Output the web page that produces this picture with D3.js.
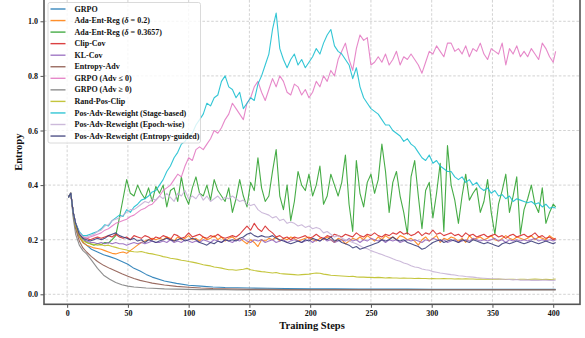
<!DOCTYPE html>
<html><head><meta charset="utf-8">
<script src="https://cdn.jsdelivr.net/npm/d3@7"></script>
<style>
html,body{margin:0;padding:0;background:#fff;}
svg{display:block;font-family:"Liberation Serif","Times New Roman",serif;}
</style></head><body>
<svg id="chart" width="585" height="338"></svg>
<script>
// Training-step grids the series are logged on
const stepsDense = [1, 3, 5, 7, 10, 13].concat(d3.range(16, 401, 3), [402]);
const stepsSparse = [1, 3, 5, 7, 10, 13, 16, 20, 25, 30, 35, 40, 45, 50, 55, 60, 65, 70,
  80, 90, 100, 110, 120, 130, 140, 150, 165, 180, 200, 220, 240, 260, 280, 300, 320, 340, 360, 380, 402];

const xTicks = [0, 50, 100, 150, 200, 250, 300, 350, 400];
const yTicks = [0.0, 0.2, 0.4, 0.6, 0.8, 1.0];

// entropy curves (sparse grid)
const grpo = [0.355, 0.37, 0.30, 0.25, 0.21, 0.19,
  0.18, 0.165, 0.155, 0.145, 0.138, 0.13, 0.12, 0.11, 0.095, 0.085, 0.073, 0.063,
  0.049, 0.04, 0.033, 0.03, 0.027, 0.025, 0.024, 0.023,
  0.022, 0.021, 0.02, 0.02, 0.019, 0.019, 0.019, 0.018, 0.018, 0.018, 0.018, 0.018, 0.018];
const entropyAdv = [0.355, 0.37, 0.29, 0.24, 0.195, 0.17,
  0.155, 0.138, 0.12, 0.106, 0.095, 0.085, 0.075, 0.066, 0.058, 0.051, 0.046, 0.041,
  0.034, 0.029, 0.026, 0.023, 0.021, 0.02, 0.019, 0.018,
  0.018, 0.017, 0.017, 0.017, 0.017, 0.017, 0.017, 0.017, 0.017, 0.017, 0.017, 0.017, 0.017];
const grpoAdvPos = [0.355, 0.37, 0.28, 0.22, 0.18, 0.16,
  0.148, 0.125, 0.095, 0.07, 0.055, 0.043, 0.035, 0.03, 0.027, 0.025, 0.023, 0.022,
  0.02, 0.019, 0.018, 0.017, 0.017, 0.017, 0.016, 0.016,
  0.016, 0.016, 0.016, 0.016, 0.016, 0.016, 0.016, 0.016, 0.016, 0.016, 0.016, 0.016, 0.016];

// entropy curves (dense grid)
const adaEnt02 = [0.355, 0.37, 0.30, 0.25, 0.21, 0.19,
  0.18, 0.175, 0.17, 0.168, 0.165, 0.16, 0.155, 0.15, 0.148, 0.152,
  0.155, 0.15, 0.16, 0.17, 0.18, 0.19, 0.195, 0.2, 0.205, 0.2,
  0.205, 0.2, 0.21, 0.205, 0.195, 0.21, 0.2, 0.205, 0.215, 0.2,
  0.205, 0.195, 0.21, 0.2, 0.205, 0.215, 0.2, 0.21, 0.195, 0.205,
  0.21, 0.2, 0.205, 0.195, 0.185, 0.2, 0.19, 0.175, 0.2, 0.195,
  0.205, 0.2, 0.21, 0.195, 0.205, 0.2, 0.21, 0.205, 0.195, 0.2,
  0.205, 0.21, 0.2, 0.195, 0.205, 0.2, 0.21, 0.2, 0.19, 0.205,
  0.2, 0.185, 0.195, 0.205, 0.2, 0.21, 0.2, 0.215, 0.205, 0.195,
  0.21, 0.2, 0.215, 0.205, 0.21, 0.2, 0.215, 0.21, 0.2, 0.205,
  0.195, 0.18, 0.2, 0.21, 0.195, 0.205, 0.215, 0.19, 0.205, 0.2,
  0.21, 0.205, 0.195, 0.205, 0.19, 0.215, 0.2, 0.205, 0.21, 0.2,
  0.205, 0.215, 0.2, 0.195, 0.205, 0.215, 0.205, 0.2, 0.21, 0.205,
  0.2, 0.205, 0.215, 0.2, 0.21, 0.205, 0.2, 0.215, 0.205, 0.2];
const adaEnt3657 = [0.355, 0.37, 0.30, 0.26, 0.225, 0.205,
  0.19, 0.185, 0.18, 0.186, 0.182, 0.19, 0.188, 0.2, 0.215, 0.28,
  0.35, 0.42, 0.37, 0.36, 0.40, 0.37, 0.35, 0.39, 0.34, 0.395,
  0.37, 0.40, 0.32, 0.38, 0.39, 0.34, 0.43, 0.36, 0.33, 0.39,
  0.43, 0.37, 0.36, 0.40, 0.345, 0.42, 0.38, 0.36, 0.34, 0.39,
  0.30, 0.35, 0.42, 0.36, 0.32, 0.41, 0.38, 0.50, 0.39, 0.34,
  0.36, 0.45, 0.53, 0.36, 0.31, 0.40, 0.27, 0.34, 0.45, 0.40,
  0.38, 0.44, 0.36, 0.40, 0.47, 0.33, 0.36, 0.44, 0.40, 0.36,
  0.41, 0.51, 0.33, 0.23, 0.49, 0.37, 0.32, 0.41, 0.44, 0.37,
  0.42, 0.55, 0.45, 0.30, 0.41, 0.45, 0.36, 0.30, 0.22, 0.43,
  0.49, 0.36, 0.24, 0.38, 0.41, 0.28, 0.37, 0.48, 0.23, 0.545,
  0.40, 0.345, 0.26, 0.36, 0.44, 0.345, 0.37, 0.39, 0.30, 0.34,
  0.42, 0.30, 0.22, 0.33, 0.38, 0.44, 0.30, 0.36, 0.43, 0.22,
  0.31, 0.35, 0.40, 0.33, 0.30, 0.39, 0.26, 0.30, 0.33, 0.32];
const clipCov = [0.355, 0.37, 0.30, 0.26, 0.225, 0.21,
  0.205, 0.20, 0.205, 0.21, 0.205, 0.21, 0.215, 0.21, 0.22, 0.21,
  0.205, 0.21, 0.20, 0.215, 0.21, 0.205, 0.215, 0.21, 0.20, 0.21,
  0.205, 0.215, 0.21, 0.20, 0.22, 0.215, 0.205, 0.21, 0.225, 0.21,
  0.215, 0.22, 0.21, 0.205, 0.215, 0.21, 0.22, 0.21, 0.205, 0.21,
  0.215, 0.21, 0.22, 0.235, 0.25, 0.235, 0.26, 0.24, 0.23, 0.25,
  0.235, 0.225, 0.21, 0.215, 0.205, 0.21, 0.2, 0.21, 0.205, 0.21,
  0.215, 0.205, 0.21, 0.22, 0.21, 0.205, 0.215, 0.21, 0.22, 0.215,
  0.21, 0.22, 0.215, 0.21, 0.225, 0.215, 0.21, 0.22, 0.215, 0.225,
  0.215, 0.21, 0.22, 0.215, 0.225, 0.22, 0.23, 0.22, 0.225, 0.215,
  0.22, 0.23, 0.215, 0.225, 0.22, 0.235, 0.22, 0.225, 0.215, 0.22,
  0.225, 0.215, 0.22, 0.21, 0.225, 0.215, 0.22, 0.21, 0.215, 0.22,
  0.21, 0.215, 0.22, 0.21, 0.215, 0.205, 0.215, 0.22, 0.21, 0.215,
  0.22, 0.21, 0.215, 0.225, 0.21, 0.215, 0.205, 0.21, 0.2, 0.205];
const klCov = [0.355, 0.37, 0.30, 0.255, 0.215, 0.2,
  0.195, 0.19, 0.19, 0.185, 0.19, 0.185, 0.19, 0.185, 0.19, 0.185,
  0.185, 0.18, 0.185, 0.19, 0.185, 0.19, 0.185, 0.19, 0.195, 0.19,
  0.19, 0.195, 0.19, 0.2, 0.19, 0.195, 0.19, 0.2, 0.195, 0.19,
  0.195, 0.19, 0.2, 0.195, 0.19, 0.2, 0.195, 0.19, 0.2, 0.195,
  0.19, 0.2, 0.195, 0.205, 0.195, 0.19, 0.2, 0.195, 0.2, 0.19,
  0.195, 0.2, 0.19, 0.195, 0.2, 0.19, 0.195, 0.2, 0.195, 0.19,
  0.195, 0.2, 0.19, 0.2, 0.195, 0.205, 0.195, 0.2, 0.19, 0.195,
  0.2, 0.195, 0.205, 0.195, 0.2, 0.19, 0.2, 0.195, 0.205, 0.2,
  0.195, 0.2, 0.19, 0.2, 0.195, 0.2, 0.19, 0.195, 0.2, 0.195,
  0.2, 0.195, 0.19, 0.2, 0.195, 0.205, 0.2, 0.195, 0.2, 0.19,
  0.195, 0.2, 0.19, 0.195, 0.2, 0.195, 0.205, 0.2, 0.195, 0.2,
  0.195, 0.2, 0.205, 0.195, 0.2, 0.19, 0.2, 0.195, 0.2, 0.195,
  0.2, 0.195, 0.2, 0.205, 0.195, 0.2, 0.195, 0.2, 0.195, 0.2];
const grpoAdvNeg = [0.355, 0.37, 0.30, 0.26, 0.225, 0.21,
  0.205, 0.21, 0.215, 0.22, 0.225, 0.235, 0.24, 0.25, 0.26, 0.265,
  0.27, 0.275, 0.285, 0.29, 0.30, 0.31, 0.315, 0.325, 0.33, 0.345,
  0.36, 0.38, 0.39, 0.40, 0.42, 0.44, 0.43, 0.47, 0.50, 0.49,
  0.53, 0.54, 0.53, 0.55, 0.57, 0.60, 0.59, 0.61, 0.64, 0.66,
  0.70, 0.68, 0.66, 0.64, 0.70, 0.72, 0.76, 0.78, 0.74, 0.71,
  0.75, 0.79, 0.76, 0.80, 0.78, 0.74, 0.73, 0.77, 0.76, 0.73,
  0.75, 0.72, 0.74, 0.78, 0.76, 0.80, 0.78, 0.82, 0.80, 0.86,
  0.89, 0.92, 0.86, 0.82, 0.90, 0.95, 0.93, 0.94, 0.84, 0.85,
  0.87, 0.85, 0.88, 0.84, 0.86, 0.89, 0.84, 0.87, 0.86, 0.88,
  0.86, 0.84, 0.81, 0.85, 0.89, 0.88, 0.91, 0.89, 0.87, 0.92,
  0.92, 0.89, 0.90, 0.88, 0.91, 0.87, 0.90, 0.89, 0.92, 0.88,
  0.86, 0.90, 0.89, 0.88, 0.92, 0.84, 0.90, 0.88, 0.91, 0.87,
  0.89, 0.87, 0.90, 0.88, 0.86, 0.92, 0.90, 0.87, 0.85, 0.89];
const randPosClip = [0.355, 0.37, 0.30, 0.25, 0.215, 0.195,
  0.19, 0.185, 0.183, 0.18, 0.182, 0.178, 0.18, 0.175, 0.172, 0.168,
  0.165, 0.162, 0.158, 0.156, 0.155, 0.157, 0.153, 0.15, 0.148, 0.145,
  0.142, 0.138, 0.136, 0.132, 0.13, 0.128, 0.125, 0.123, 0.12, 0.118,
  0.115, 0.112, 0.108, 0.106, 0.104, 0.1, 0.098, 0.096, 0.093, 0.09,
  0.09, 0.088, 0.09, 0.092, 0.095, 0.09, 0.087, 0.085, 0.083, 0.082,
  0.08, 0.078, 0.08, 0.076, 0.075, 0.074, 0.073, 0.072, 0.071, 0.072,
  0.073, 0.074, 0.076, 0.078, 0.077, 0.074, 0.072, 0.07, 0.069, 0.068,
  0.067, 0.066, 0.065, 0.066, 0.064, 0.063, 0.063, 0.062, 0.062, 0.061,
  0.062, 0.061, 0.06, 0.061, 0.06, 0.06, 0.059, 0.06, 0.059, 0.059,
  0.058, 0.059, 0.058, 0.058, 0.057, 0.058, 0.057, 0.057, 0.058, 0.057,
  0.057, 0.056, 0.057, 0.056, 0.057, 0.056, 0.056, 0.055, 0.056, 0.055,
  0.056, 0.055, 0.055, 0.056, 0.055, 0.054, 0.055, 0.055, 0.054, 0.055,
  0.055, 0.054, 0.055, 0.056, 0.055, 0.054, 0.055, 0.054, 0.055, 0.056];
const stageBased = [0.355, 0.37, 0.30, 0.26, 0.23, 0.215,
  0.215, 0.22, 0.225, 0.23, 0.24, 0.255, 0.25, 0.27, 0.28, 0.29,
  0.285, 0.31, 0.30, 0.32, 0.33, 0.345, 0.35, 0.36, 0.375, 0.38,
  0.40, 0.42, 0.45, 0.47, 0.50, 0.52, 0.55, 0.56, 0.58, 0.59,
  0.62, 0.64, 0.66, 0.70, 0.69, 0.72, 0.73, 0.78, 0.80, 0.76,
  0.75, 0.72, 0.74, 0.68, 0.70, 0.72, 0.71, 0.77, 0.80, 0.84,
  0.88, 0.97, 1.03, 0.90, 0.86, 0.83, 0.86, 0.88, 0.84, 0.86,
  0.83, 0.85, 0.87, 0.90, 0.88, 0.92, 0.95, 0.97, 0.91, 0.89,
  0.88, 0.86, 0.84, 0.79, 0.83, 0.76, 0.72, 0.70, 0.68, 0.67,
  0.66, 0.64, 0.62, 0.62, 0.60, 0.59, 0.58, 0.56, 0.57, 0.55,
  0.54, 0.52, 0.50, 0.49, 0.51, 0.48, 0.49, 0.47, 0.46, 0.45,
  0.45, 0.43, 0.42, 0.43, 0.41, 0.42, 0.40, 0.41, 0.39, 0.38,
  0.39, 0.37, 0.38, 0.36, 0.365, 0.35, 0.36, 0.34, 0.35, 0.345,
  0.34, 0.335, 0.34, 0.33, 0.335, 0.32, 0.33, 0.315, 0.32, 0.315];
const epochWise = [0.355, 0.37, 0.30, 0.26, 0.225, 0.21,
  0.21, 0.215, 0.22, 0.23, 0.235, 0.25, 0.255, 0.27, 0.275, 0.28,
  0.29, 0.30, 0.31, 0.31, 0.32, 0.33, 0.34, 0.335, 0.35, 0.345,
  0.36, 0.35, 0.37, 0.355, 0.34, 0.37, 0.36, 0.38, 0.35, 0.36,
  0.35, 0.37, 0.345, 0.36, 0.34, 0.35, 0.36, 0.345, 0.355, 0.35,
  0.36, 0.35, 0.34, 0.345, 0.33, 0.325, 0.33, 0.31, 0.30, 0.295,
  0.29, 0.28, 0.285, 0.27, 0.275, 0.26, 0.265, 0.26, 0.25, 0.255,
  0.245, 0.25, 0.24, 0.245, 0.24, 0.225, 0.23, 0.22, 0.21, 0.215,
  0.205, 0.2, 0.195, 0.19, 0.185, 0.178, 0.17, 0.167, 0.16, 0.155,
  0.15, 0.146, 0.14, 0.136, 0.13, 0.125, 0.121, 0.115, 0.111, 0.105,
  0.1, 0.098, 0.093, 0.09, 0.088, 0.083, 0.081, 0.078, 0.076, 0.074,
  0.072, 0.071, 0.068, 0.067, 0.065, 0.064, 0.063, 0.061, 0.06, 0.059,
  0.058, 0.057, 0.057, 0.056, 0.055, 0.055, 0.054, 0.053, 0.054, 0.052,
  0.052, 0.053, 0.051, 0.052, 0.051, 0.052, 0.052, 0.051, 0.051, 0.052];
const entropyGuided = [0.355, 0.37, 0.30, 0.26, 0.22, 0.205,
  0.2, 0.195, 0.2, 0.205, 0.2, 0.205, 0.215, 0.22, 0.225, 0.215,
  0.21, 0.205, 0.2, 0.205, 0.195, 0.2, 0.19, 0.2, 0.195, 0.19,
  0.195, 0.2, 0.205, 0.2, 0.195, 0.2, 0.205, 0.195, 0.2, 0.205,
  0.2, 0.19, 0.185, 0.18, 0.19, 0.185, 0.195, 0.19, 0.2, 0.195,
  0.2, 0.195, 0.205, 0.21, 0.22, 0.225, 0.215, 0.21, 0.215, 0.21,
  0.21, 0.215, 0.205, 0.2, 0.195, 0.19, 0.185, 0.19, 0.195, 0.19,
  0.2, 0.195, 0.205, 0.2, 0.195, 0.205, 0.2, 0.21, 0.195, 0.2,
  0.19, 0.185, 0.18, 0.17, 0.175, 0.165, 0.17, 0.175, 0.18, 0.185,
  0.19, 0.2, 0.195, 0.2, 0.21, 0.2, 0.195, 0.2, 0.19, 0.185,
  0.18, 0.175, 0.165, 0.17, 0.18, 0.19, 0.195, 0.2, 0.19, 0.195,
  0.2, 0.195, 0.19, 0.2, 0.195, 0.19, 0.2, 0.195, 0.19, 0.185,
  0.19, 0.185, 0.18, 0.175, 0.185, 0.19, 0.185, 0.19, 0.195, 0.19,
  0.185, 0.19, 0.195, 0.19, 0.185, 0.19, 0.195, 0.19, 0.185, 0.19];

const labels = ["GRPO", "Ada-Ent-Reg (δ = 0.2)", "Ada-Ent-Reg (δ = 0.3657)", "Clip-Cov", "KL-Cov",
  "Entropy-Adv", "GRPO (Adv ≤ 0)", "GRPO (Adv ≥ 0)", "Rand-Pos-Clip",
  "Pos-Adv-Reweight (Stage-based)", "Pos-Adv-Reweight (Epoch-wise)", "Pos-Adv-Reweight (Entropy-guided)"];
const colors = ["#1f77b4", "#ff7f0e", "#2ca02c", "#d62728", "#9467bd", "#8c564b",
  "#e377c2", "#7f7f7f", "#bcbd22", "#17becf", "#c5b0d5", "#393b79"];
const seriesValues = [grpo, adaEnt02, adaEnt3657, clipCov, klCov, entropyAdv,
  grpoAdvNeg, grpoAdvPos, randPosClip, stageBased, epochWise, entropyGuided];
const seriesSteps = [stepsSparse, stepsDense, stepsDense, stepsDense, stepsDense, stepsSparse,
  stepsDense, stepsSparse, stepsDense, stepsDense, stepsDense, stepsDense];

const series = labels.map((name, i) => ({
  name, color: colors[i],
  points: seriesSteps[i].map((s, j) => [s, seriesValues[i][j]])
}));

// layout
const W = 585, H = 338;
const plot = {left: 44, right: 580, top: 0, bottom: 304.3};
const x = d3.scaleLinear().domain([-19.05, 422.05]).range([plot.left, plot.right]);
const y = d3.scaleLinear().domain([-0.0366, 1.078]).range([plot.bottom, plot.top]);

const svg = d3.select("#chart");
svg.append("rect").attr("width", W).attr("height", H).attr("fill", "#fff");

// dashed grid
const grid = svg.append("g").attr("stroke", "#c8c8c8").attr("stroke-width", 0.8)
  .attr("stroke-dasharray", "2.6,1.8");
grid.selectAll("line.v").data(xTicks).join("line")
  .attr("x1", d => x(d)).attr("x2", d => x(d)).attr("y1", plot.top).attr("y2", plot.bottom);
grid.selectAll("line.h").data(yTicks).join("line")
  .attr("y1", d => y(d)).attr("y2", d => y(d)).attr("x1", plot.left).attr("x2", plot.right);

// curves
svg.append("defs").append("clipPath").attr("id", "plotclip").append("rect")
  .attr("x", plot.left).attr("y", plot.top).attr("width", plot.right - plot.left).attr("height", plot.bottom - plot.top);
const line = d3.line().x(d => x(d[0])).y(d => y(d[1]));
svg.append("g").attr("clip-path", "url(#plotclip)")
  .selectAll("path").data(series).join("path")
  .attr("d", d => line(d.points))
  .attr("fill", "none")
  .attr("stroke", d => d.color)
  .attr("stroke-width", 1.1)
  .attr("stroke-opacity", 0.88)
  .attr("stroke-linejoin", "round");

// axes
const xAxis = svg.append("g").attr("transform", `translate(0,${plot.bottom})`)
  .call(d3.axisBottom(x).tickValues(xTicks).tickFormat(d3.format("d")).tickSize(3.5).tickPadding(2.5));
const yAxis = svg.append("g").attr("transform", `translate(${plot.left},0)`)
  .call(d3.axisLeft(y).tickValues(yTicks).tickFormat(d3.format(".1f")).tickSize(3.5).tickPadding(2.5));
[xAxis, yAxis].forEach(g => {
  g.select(".domain").remove();
  g.selectAll(".tick line").attr("stroke", "#555").attr("stroke-width", 1);
  g.selectAll(".tick text").attr("fill", "#111").style("font-size", "8px").style("font-weight", "bold")
    .style("font-family", '"Liberation Serif", serif');
});

// frame
svg.append("rect").attr("x", plot.left).attr("y", plot.top - 1)
  .attr("width", plot.right - plot.left).attr("height", plot.bottom - plot.top + 1)
  .attr("fill", "none").attr("stroke", "#555").attr("stroke-width", 1.6);

// axis titles
svg.append("text").attr("x", (plot.left + plot.right) / 2).attr("y", 328.5)
  .attr("text-anchor", "middle").style("font-size", "10.5px").style("font-weight", "bold")
  .attr("fill", "#111").text("Training Steps");
svg.append("text").attr("transform", `translate(21.5,${(plot.top + plot.bottom) / 2}) rotate(-90)`)
  .attr("text-anchor", "middle").style("font-size", "10.5px").style("font-weight", "bold")
  .attr("fill", "#111").text("Entropy");

// legend
const leg = svg.append("g");
leg.append("rect").attr("x", 48).attr("y", 2.5).attr("width", 152.5).attr("height", 140.5)
  .attr("rx", 2).attr("fill", "#fff").attr("fill-opacity", 0.8)
  .attr("stroke", "#d0d0d0").attr("stroke-width", 0.8);
const rows = leg.selectAll("g.row").data(series).join("g")
  .attr("transform", (d, i) => `translate(0,${9 + i * 11.55})`);
rows.append("line").attr("x1", 50.5).attr("x2", 65.5).attr("y1", 0).attr("y2", 0)
  .attr("stroke", d => d.color).attr("stroke-width", 1.4).attr("stroke-opacity", 0.88);
rows.append("text").attr("x", 74.5).attr("y", 0).attr("dy", "0.33em")
  .style("font-size", "8px").style("font-weight", "bold").attr("fill", "#111")
  .each(function(d) {
    const parts = d.name.split("δ");
    const t = d3.select(this);
    parts.forEach((p, k) => {
      if (k > 0) t.append("tspan").style("font-style", "italic").text("δ");
      t.append("tspan").text(p);
    });
  });
</script></body></html>
